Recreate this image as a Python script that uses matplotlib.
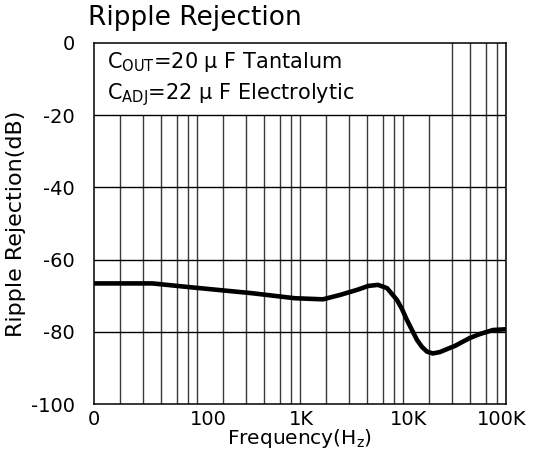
#!/usr/bin/env python
# Ripple rejection vs frequency

import matplotlib
matplotlib.use('Agg')
import matplotlib.pyplot as plt
import matplotlib.transforms as mtransforms
from matplotlib.patches import Rectangle
from matplotlib.ticker import NullLocator

plt.rcParams['font.family'] = ['DejaVu Sans']
plt.rcParams['mathtext.default'] = 'regular'

# Curve
freq = [10, 37, 76, 160, 340, 890, 1670, 2440, 3570, 4600, 5700, 7000,
        8750, 9780, 10900, 13700, 15300, 17100, 19500, 22850, 26700,
        32000, 38300, 44700, 56000, 75000, 100000]
rej_db = [-66.6, -66.6, -67.5, -68.4, -69.3, -70.7, -71.0, -69.8, -68.4,
          -67.3, -67.0, -67.9, -71.2, -73.7, -76.7, -82.3, -84.2, -85.5,
          -86.0, -85.6, -84.8, -83.9, -82.7, -81.7, -80.6, -79.5, -79.3]

# Axis ticks / grid
decades = [10, 100, 1000, 10000]
grid_mult = [1.8, 3.0, 4.5, 6.4, 8.2, 10.0]
x_ticks = [10, 100, 1000, 10000, 100000]
x_ticklabels = ['0', '100', '1K', '10K', '100K']
y_ticks = [0, -20, -40, -60, -80, -100]
y_ticklabels = ['0', '-20', '-40', '-60', '-80', '-100']

fs = 14

fig = plt.figure(figsize=(5.35, 4.53), dpi=100)
ax = fig.add_axes([94/535, 1 - 404/453, 412/535, 361/453])

ax.set_xscale('log')
ax.set_xlim(10, 100000)
ax.set_ylim(-100, 0)

# vertical grid lines
for d in decades:
    for m in grid_mult:
        ax.axvline(d * m, color='#3a3a3a', lw=1.0, zorder=1)

# white box behind the notes
ax.add_patch(Rectangle((0, 0.8), 0.845, 0.2, transform=ax.transAxes,
                       facecolor='white', edgecolor='none', zorder=2))

# horizontal grid lines
for y in y_ticks[1:-1]:
    ax.axhline(y, color='black', lw=1.0, zorder=3)

ax.plot(freq, rej_db, color='black', lw=3.3, zorder=4,
        solid_capstyle='butt', solid_joinstyle='round')

# ticks
ax.set_xticks(x_ticks)
ax.set_xticklabels(x_ticklabels, fontsize=fs)
ax.xaxis.set_minor_locator(NullLocator())
ax.set_yticks(y_ticks)
ax.set_yticklabels(y_ticklabels, fontsize=fs)
ax.tick_params(length=0)
ax.tick_params(axis='x', pad=4)
ax.tick_params(axis='y', pad=14)

# small shifts of the x tick labels as in the picture
shifts = [(0, 0), (11, 0), (1, 0), (6, 0), (-4, 0)]
for lab, (dx, dy) in zip(ax.get_xticklabels(), shifts):
    off = mtransforms.ScaledTranslation(dx/100, dy/100, fig.dpi_scale_trans)
    lab.set_transform(lab.get_transform() + off)

for s in ax.spines.values():
    s.set_linewidth(1.1)
    s.set_zorder(5)

# labels
ax.set_xlabel(r'Frequency(H$_{z}$)', fontsize=14.5, va='center')
ax.xaxis.set_label_coords(0.5, (404 - 439) / 361)
ax.set_ylabel('Ripple Rejection(dB)', fontsize=16, va='center')
ax.yaxis.set_label_coords((16 - 94) / 412, 0.5)

fig.text(88/535, 1 - 18/453, 'Ripple Rejection', fontsize=19,
         ha='left', va='center')

# notes inside the plot
ax.text(0.032, 0.947, r'C$_{OUT}$=20 μ F Tantalum', transform=ax.transAxes,
        fontsize=15, ha='left', va='center', zorder=6)
ax.text(0.032, 0.856, r'C$_{ADJ}$=22 μ F Electrolytic', transform=ax.transAxes,
        fontsize=15, ha='left', va='center', zorder=6)

plt.savefig('out.png', dpi=100)
